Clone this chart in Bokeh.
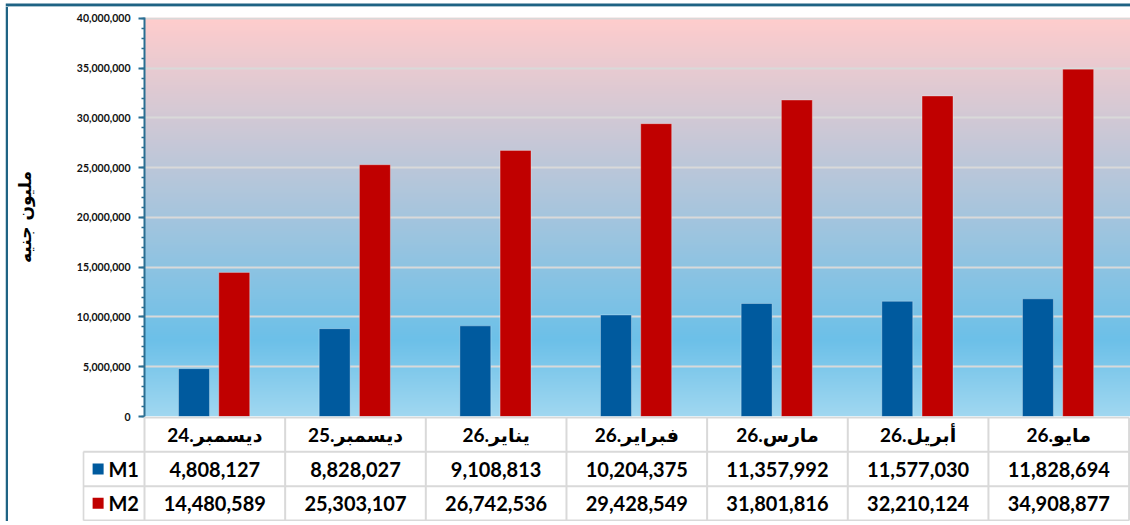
import numpy as np
from bokeh.plotting import figure
from bokeh.models import Range1d, FixedTicker, NumeralTickFormatter, Spacer
from bokeh.layouts import column, row
from bokeh.embed import file_html
from bokeh.resources import INLINE
from bokeh.core.properties import value

# ---------------- data ----------------
categories = ["ديسمبر.24", "ديسمبر.25", "يناير.26", "فبراير.26", "مارس.26", "أبريل.26", "مايو.26"]
series_names = ["M1", "M2"]
m1_values = [4808127, 8828027, 9108813, 10204375, 11357992, 11577030, 11828694]
m2_values = [14480589, 25303107, 26742536, 29428549, 31801816, 32210124, 34908877]
y_ticks = [0, 5000000, 10000000, 15000000, 20000000, 25000000, 30000000, 35000000, 40000000]
y_label = "مليون جنيه"

# ---------------- style ----------------
C_M1 = "#005A9E"
C_M2 = "#C00000"
AXIS_C = "#2A6E92"
GRID_C = "#D9D9D9"
BORDER_C = "#1F6384"
NUM_FONT = "Lato"
MIX_FONT = "Lato, DejaVu Sans"

W = 1122
H1 = 418
H2 = 105
LEFT1 = 136
LEFT2 = 74
OVERLAP = 8
X_START = -0.5
X_END = 6.51
px_per_unit = (W - LEFT1) / (X_END - X_START)
X2_START = X_START - (LEFT1 - LEFT2) / px_per_unit
Y_TOP = 40.1e6
TOP_H = 20

n = len(categories)
xs = np.arange(n, dtype=float)


def no_align(f):
    if "frame_align" in f.properties():
        f.frame_align = False
    return f


def plain_fig(w, h, xr, yr):
    f = figure(width=w, height=h, x_range=Range1d(*xr), y_range=Range1d(*yr),
               title=None, output_backend="svg", toolbar_location=None,
               x_axis_location=None, y_axis_location=None,
               min_border_left=0, min_border_top=0, min_border_right=0, min_border_bottom=0)
    f.grid.visible = False
    f.outline_line_color = None
    f.background_fill_color = "white"
    f.border_fill_color = "white"
    return no_align(f)


# ---------------- chart ----------------
p1 = figure(width=W, height=H1, x_range=Range1d(X_START, X_END), y_range=Range1d(0, Y_TOP),
            output_backend="svg", toolbar_location=None, x_axis_location=None,
            min_border_left=LEFT1, min_border_right=0, min_border_top=11, min_border_bottom=OVERLAP)
no_align(p1)
p1.outline_line_color = None
p1.background_fill_color = "white"
p1.border_fill_color = "white"
p1.xgrid.visible = False

# gradient background
stops_t = [0.0, 0.19, 1.0]
stops_rgb = [(160, 215, 240), (108, 192, 232), (255, 204, 204)]
rows = 400
t = np.linspace(0, 1, rows)
img = np.empty((rows, 8), dtype=np.uint32)
view = img.view(dtype=np.uint8).reshape((rows, 8, 4))
for k in range(3):
    ch = np.interp(t, stops_t, [c[k] for c in stops_rgb])
    view[:, :, k] = np.round(ch).astype(np.uint8)[:, None]
view[:, :, 3] = 255
p1.image_rgba(image=[img], x=X_START, y=0, dw=X_END - X_START, dh=Y_TOP, level="image")

p1.ygrid.ticker = FixedTicker(ticks=y_ticks)
p1.ygrid.grid_line_color = GRID_C
p1.ygrid.grid_line_width = 2

bw = 0.22
p1.vbar(x=xs - 0.148, top=m1_values, width=bw, fill_color=C_M1, line_color="white", line_alpha=0.3, line_width=1)
p1.vbar(x=xs + 0.138, top=m2_values, width=bw, fill_color=C_M2, line_color="white", line_alpha=0.3, line_width=1)

ax = p1.yaxis[0]
ax.ticker = FixedTicker(ticks=y_ticks, minor_ticks=list(range(0, 40000001, 1000000)))
ax.formatter = NumeralTickFormatter(format="0,0")
ax.axis_line_color = AXIS_C
ax.axis_line_width = 2
ax.major_tick_line_color = AXIS_C
ax.major_tick_line_width = 2
ax.major_tick_out = 6
ax.major_tick_in = 0
ax.minor_tick_line_color = AXIS_C
ax.minor_tick_line_width = 1.5
ax.minor_tick_out = 3
ax.minor_tick_in = 0
ax.major_label_standoff = 8
ax.major_label_text_font = NUM_FONT
ax.major_label_text_font_style = "bold"
ax.major_label_text_font_size = "10.5px"
ax.major_label_text_color = "#111111"
ax.axis_label = y_label
ax.axis_label_text_font = "DejaVu Sans"
ax.axis_label_text_font_style = "bold"
ax.axis_label_text_font_size = "17px"
ax.axis_label_text_color = "#000000"
ax.axis_label_standoff = 39

# ---------------- data table ----------------
p2 = figure(width=W, height=H2, x_range=Range1d(X2_START, X_END), y_range=Range1d(-0.03, 3.03),
            output_backend="svg", toolbar_location=None, x_axis_location=None, y_axis_location=None,
            min_border_left=LEFT2, min_border_right=0, min_border_top=0, min_border_bottom=0)
no_align(p2)
p2.outline_line_color = None
p2.xgrid.visible = False
p2.ygrid.visible = False
p2.background_fill_alpha = 0
p2.border_fill_alpha = 0
p2.margin = (-OVERLAP, 0, 0, 0)

xl = X2_START + 0.006
bounds = list(np.arange(n + 1) - 0.5)
h_x0 = [X_START, xl, xl, xl]
h_x1 = [bounds[-1]] * 4
h_y = [3, 2, 1, 0]
p2.segment(x0=h_x0, y0=h_y, x1=h_x1, y1=h_y, line_color=GRID_C, line_width=2)
v_x = bounds + [xl]
v_y0 = [0] * len(bounds) + [0]
v_y1 = [3] * len(bounds) + [2]
p2.segment(x0=v_x, y0=v_y0, x1=v_x, y1=v_y1, line_color=GRID_C, line_width=2)

p2.text(x=xs, y=[2.5] * n, text=categories, text_align="center", text_baseline="middle",
        text_font=value(MIX_FONT), text_font_style="bold", text_font_size="19px", text_color="#000000")
p2.text(x=xs, y=[1.5] * n, text=[f"{v:,}" for v in m1_values], text_align="center", text_baseline="middle",
        text_font=value(NUM_FONT), text_font_style="bold", text_font_size="20px", text_color="#000000")
p2.text(x=xs, y=[0.5] * n, text=[f"{v:,}" for v in m2_values], text_align="center", text_baseline="middle",
        text_font=value(NUM_FONT), text_font_style="bold", text_font_size="20px", text_color="#000000")

p2.scatter(x=[xl + 0.105, xl + 0.105], y=[1.5, 0.5], marker="square", size=11,
           fill_color=[C_M1, C_M2], line_color=None)
p2.text(x=[xl + 0.178, xl + 0.178], y=[1.5, 0.5], text=series_names, text_align="left", text_baseline="middle",
        text_font=value(NUM_FONT), text_font_style="bold", text_font_size="20px", text_color="#000000")

# ---------------- outer frame lines ----------------
top_fig = plain_fig(3 + W, TOP_H, (0, 1), (0, TOP_H))
top_fig.quad(left=[0], right=[1], bottom=[TOP_H - 6], top=[TOP_H - 3], fill_color=BORDER_C, line_color=None)
left_fig = plain_fig(3, H1 + H2 - OVERLAP, (0, 1), (0, 1))
left_fig.quad(left=[0], right=[1], bottom=[0], top=[1], fill_color=BORDER_C, line_color=None)

main_row = row(Spacer(width=5), left_fig, column(p1, p2, spacing=0), spacing=0)
main_row.margin = (-(TOP_H - 6), 0, 0, 0)

layout = column(row(Spacer(width=5), top_fig, spacing=0), main_row, spacing=0)

open("out.html", "w").write(file_html(layout, INLINE))
